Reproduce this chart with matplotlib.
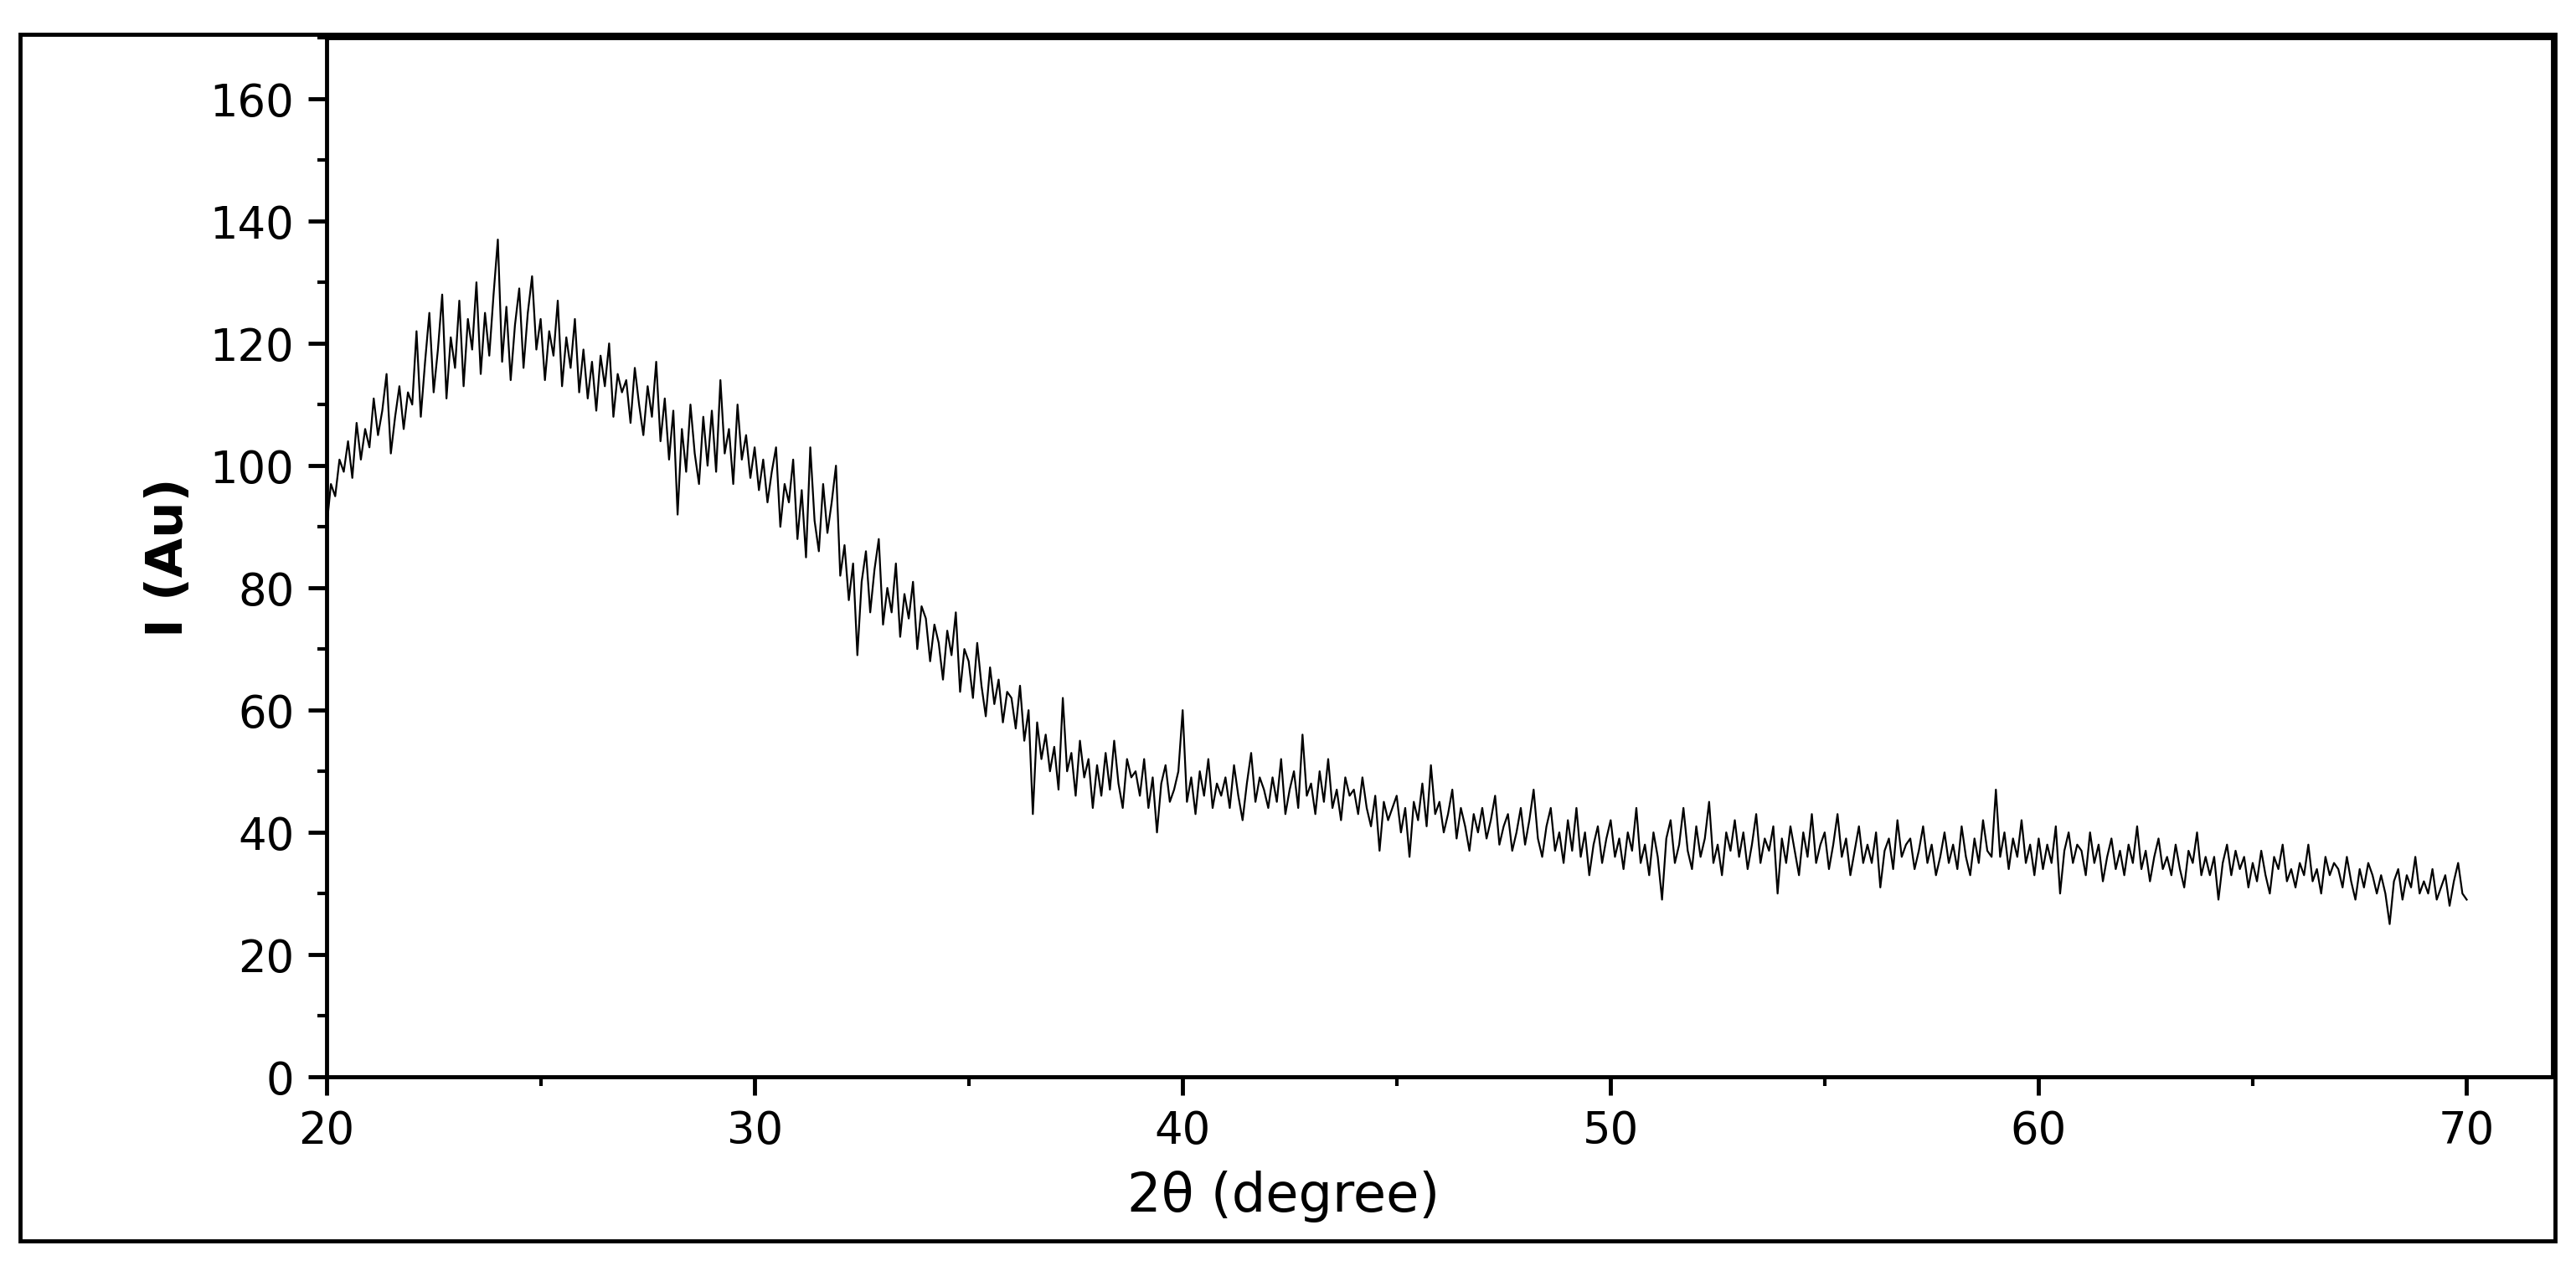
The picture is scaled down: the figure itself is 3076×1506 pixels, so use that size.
import numpy as np
import matplotlib.pyplot as plt
from matplotlib.patches import Rectangle
from matplotlib.ticker import MultipleLocator

# 2theta from 20 to 70 in 0.1 degree steps, intensities
two_theta = np.round(np.arange(20.0, 70.05, 0.1), 1)
intensity = [
    90, 97, 95, 101, 99, 104, 98, 107, 101, 106,
    103, 111, 105, 109, 115, 102, 108, 113, 106, 112,
    110, 122, 108, 117, 125, 112, 119, 128, 111, 121,
    116, 127, 113, 124, 119, 130, 115, 125, 118, 128,
    137, 117, 126, 114, 123, 129, 116, 125, 131, 119,
    124, 114, 122, 118, 127, 113, 121, 116, 124, 112,
    119, 111, 117, 109, 118, 113, 120, 108, 115, 112,
    114, 107, 116, 110, 105, 113, 108, 117, 104, 111,
    101, 109, 92, 106, 99, 110, 102, 97, 108, 100,
    109, 99, 114, 102, 106, 97, 110, 101, 105, 98,
    103, 96, 101, 94, 99, 103, 90, 97, 94, 101,
    88, 96, 85, 103, 91, 86, 97, 89, 94, 100,
    82, 87, 78, 84, 69, 81, 86, 76, 83, 88,
    74, 80, 76, 84, 72, 79, 75, 81, 70, 77,
    75, 68, 74, 71, 65, 73, 69, 76, 63, 70,
    68, 62, 71, 64, 59, 67, 61, 65, 58, 63,
    62, 57, 64, 55, 60, 43, 58, 52, 56, 50,
    54, 47, 62, 50, 53, 46, 55, 49, 52, 44,
    51, 46, 53, 47, 55, 48, 44, 52, 49, 50,
    46, 52, 44, 49, 40, 48, 51, 45, 47, 50,
    60, 45, 49, 43, 50, 46, 52, 44, 48, 46,
    49, 44, 51, 46, 42, 48, 53, 45, 49, 47,
    44, 49, 45, 52, 43, 47, 50, 44, 56, 46,
    48, 43, 50, 45, 52, 44, 47, 42, 49, 46,
    47, 43, 49, 44, 41, 46, 37, 45, 42, 44,
    46, 40, 44, 36, 45, 42, 48, 41, 51, 43,
    45, 40, 43, 47, 39, 44, 41, 37, 43, 40,
    44, 39, 42, 46, 38, 41, 43, 37, 40, 44,
    38, 42, 47, 39, 36, 41, 44, 37, 40, 35,
    42, 37, 44, 36, 40, 33, 38, 41, 35, 39,
    42, 36, 39, 34, 40, 37, 44, 35, 38, 33,
    40, 36, 29, 39, 42, 35, 38, 44, 37, 34,
    41, 36, 39, 45, 35, 38, 33, 40, 37, 42,
    36, 40, 34, 38, 43, 35, 39, 37, 41, 30,
    39, 35, 41, 37, 33, 40, 36, 43, 35, 38,
    40, 34, 38, 43, 36, 39, 33, 37, 41, 35,
    38, 35, 40, 31, 37, 39, 34, 42, 36, 38,
    39, 34, 37, 41, 35, 38, 33, 36, 40, 35,
    38, 34, 41, 36, 33, 39, 35, 42, 37, 36,
    47, 36, 40, 34, 39, 36, 42, 35, 38, 33,
    39, 34, 38, 35, 41, 30, 37, 40, 35, 38,
    37, 33, 40, 35, 38, 32, 36, 39, 34, 37,
    33, 38, 35, 41, 34, 37, 32, 36, 39, 34,
    36, 33, 38, 34, 31, 37, 35, 40, 33, 36,
    33, 36, 29, 35, 38, 33, 37, 34, 36, 31,
    35, 32, 37, 33, 30, 36, 34, 38, 32, 34,
    31, 35, 33, 38, 32, 34, 30, 36, 33, 35,
    34, 31, 36, 32, 29, 34, 31, 35, 33, 30,
    33, 30, 25, 32, 34, 29, 33, 31, 36, 30,
    32, 30, 34, 29, 31, 33, 28, 32, 35, 30,
    29,
]
x_ticks = [20, 30, 40, 50, 60, 70]
y_ticks = [0, 20, 40, 60, 80, 100, 120, 140, 160]

plt.rcParams['font.family'] = ['DejaVu Sans']

fig = plt.figure(figsize=(30.76, 15.06), dpi=100)
ax = fig.add_axes([0.1268, 0.146, 0.864, 0.824])

ax.plot(two_theta, intensity, color='black', lw=1.6)

ax.set_xlim(20, 72)
ax.set_ylim(0, 170)
ax.set_xticks(x_ticks)
ax.set_yticks(y_ticks)
ax.xaxis.set_minor_locator(MultipleLocator(5))
ax.yaxis.set_minor_locator(MultipleLocator(10))
ax.tick_params(which='major', direction='out', length=16, width=3.5,
               labelsize=38, pad=12)
ax.tick_params(which='minor', direction='out', length=8, width=3)
for s in ax.spines.values():
    s.set_linewidth(3.5)

ax.set_xlabel('2θ (degree)', fontsize=46)
ax.xaxis.set_label_coords(0.43, -0.09)
ax.set_ylabel('I (Au)', fontsize=44, fontweight='bold', labelpad=14)

# outer frame around the whole figure
fig.patches.append(Rectangle((0.0078, 0.016), 0.984, 0.957, transform=fig.transFigure,
                             fill=False, lw=3.5, ec='black'))

fig.savefig('out.png', dpi=100)
